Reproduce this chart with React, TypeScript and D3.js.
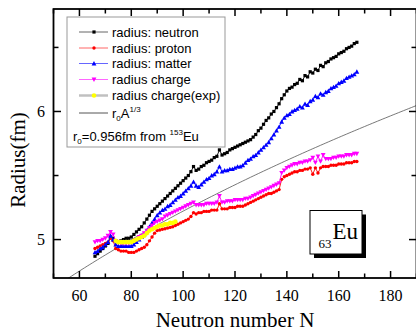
import React from "react";
import * as d3 from "d3";

const N_START = 66;
const NEUTRON = [4.87,4.89,4.91,4.93,4.95,4.97,5.02,5.01,4.99,4.98,4.99,5.00,5.01,5.01,5.02,5.04,5.06,5.08,5.10,5.13,5.16,5.19,5.22,5.24,5.26,5.28,5.30,5.32,5.34,5.36,5.38,5.40,5.42,5.44,5.46,5.48,5.50,5.53,5.57,5.54,5.55,5.57,5.58,5.60,5.61,5.62,5.64,5.65,5.70,5.66,5.67,5.68,5.70,5.71,5.72,5.73,5.74,5.75,5.76,5.77,5.78,5.80,5.82,5.85,5.87,5.90,5.93,5.95,5.98,6.00,6.03,6.06,6.10,6.13,6.16,6.18,6.19,6.21,6.22,6.25,6.24,6.28,6.27,6.31,6.30,6.33,6.32,6.36,6.35,6.38,6.39,6.41,6.42,6.43,6.45,6.46,6.47,6.49,6.50,6.51,6.53,6.54];
const PROTON = [4.93,4.94,4.95,4.96,4.97,4.98,5.01,4.99,4.93,4.92,4.91,4.91,4.91,4.90,4.90,4.90,4.91,4.92,4.93,4.94,4.96,4.99,5.02,5.05,5.07,5.075,5.08,5.085,5.09,5.095,5.10,5.11,5.12,5.13,5.14,5.15,5.16,5.18,5.21,5.20,5.21,5.21,5.22,5.22,5.22,5.23,5.23,5.23,5.28,5.24,5.24,5.24,5.25,5.25,5.25,5.26,5.26,5.26,5.27,5.28,5.29,5.30,5.31,5.32,5.33,5.34,5.35,5.36,5.36,5.37,5.38,5.39,5.47,5.49,5.50,5.51,5.52,5.53,5.53,5.54,5.54,5.55,5.55,5.56,5.51,5.56,5.52,5.56,5.57,5.57,5.57,5.58,5.58,5.58,5.59,5.59,5.59,5.60,5.60,5.60,5.61,5.61];
const MATTER = [4.90,4.91,4.93,4.94,4.96,4.98,5.03,5.00,4.96,4.95,4.95,4.95,4.95,4.95,4.95,4.96,4.98,5.00,5.02,5.04,5.07,5.10,5.13,5.16,5.19,5.21,5.23,5.24,5.26,5.27,5.29,5.31,5.33,5.34,5.36,5.38,5.40,5.42,5.45,5.42,5.41,5.43,5.45,5.47,5.48,5.50,5.51,5.53,5.57,5.53,5.54,5.54,5.55,5.55,5.56,5.57,5.57,5.58,5.60,5.62,5.63,5.65,5.66,5.68,5.70,5.72,5.74,5.76,5.79,5.82,5.85,5.88,5.92,5.95,5.97,5.98,6.00,6.01,6.02,6.04,6.03,6.06,6.05,6.08,6.09,6.12,6.11,6.14,6.13,6.15,6.16,6.18,6.19,6.20,6.22,6.23,6.24,6.26,6.27,6.28,6.29,6.31];
const CHARGE = [4.98,4.99,4.99,5.00,5.01,5.03,5.06,5.04,4.99,4.98,4.97,4.97,4.97,4.97,4.98,4.99,5.00,5.02,5.03,5.05,5.07,5.09,5.11,5.13,5.14,5.15,5.16,5.18,5.19,5.20,5.21,5.22,5.23,5.24,5.25,5.26,5.27,5.28,5.29,5.27,5.27,5.27,5.27,5.28,5.28,5.28,5.28,5.29,5.34,5.29,5.29,5.30,5.30,5.30,5.31,5.31,5.31,5.31,5.32,5.32,5.33,5.34,5.35,5.36,5.37,5.38,5.39,5.40,5.41,5.42,5.43,5.44,5.52,5.54,5.56,5.57,5.58,5.59,5.59,5.60,5.60,5.61,5.61,5.62,5.64,5.60,5.65,5.61,5.66,5.63,5.63,5.63,5.64,5.64,5.65,5.65,5.65,5.66,5.66,5.66,5.67,5.67];
const EXP_START = 74;
const CHARGE_EXP = [4.99,4.98,4.98,4.98,4.98,4.98,4.98,4.99,5.00,5.01,5.02,5.03,5.05,5.07,5.08,5.09,5.10,5.11,5.11,5.12,5.12,5.13,5.13,5.14];

const R0 = 0.956;
const Z = 63;
const X_TICKS = [60, 80, 100, 120, 140, 160, 180];
const X_MINOR = [50, 70, 90, 110, 130, 150, 170, 190];
const Y_TICKS = [5, 6];
const Y_MINOR = [5.5, 6.5];

const W = 416, H = 333;
const x = d3.scaleLinear().domain([50, 190]).range([53.5, 416.5]);
const y = d3.scaleLinear().domain([4.7, 6.8]).range([278, 9]);

type Shape = "square" | "circle" | "up" | "down" | "dot";
function Marker({ cx, cy, shape, color }: { cx: number; cy: number; shape: Shape; color: string }) {
  if (shape === "square") return <rect x={cx - 1.6} y={cy - 1.6} width={3.2} height={3.2} fill={color} />;
  if (shape === "circle") return <circle cx={cx} cy={cy} r={1.7} fill={color} />;
  if (shape === "dot") return <circle cx={cx} cy={cy} r={2.3} fill={color} />;
  const s = 2.4;
  if (shape === "up") return <path d={`M${cx},${cy - s}L${cx + s},${cy + s * 0.8}L${cx - s},${cy + s * 0.8}Z`} fill={color} />;
  return <path d={`M${cx},${cy + s}L${cx + s},${cy - s * 0.8}L${cx - s},${cy - s * 0.8}Z`} fill={color} />;
}

const SERIES: { name: string; data: number[]; start: number; color: string; shape: Shape }[] = [
  { name: "radius: neutron", data: NEUTRON, start: N_START, color: "#000000", shape: "square" },
  { name: "radius: proton", data: PROTON, start: N_START, color: "#ff0000", shape: "circle" },
  { name: "radius: matter", data: MATTER, start: N_START, color: "#0000ff", shape: "up" },
  { name: "radius charge", data: CHARGE, start: N_START, color: "#ff00ff", shape: "down" },
  { name: "radius charge(exp)", data: CHARGE_EXP, start: EXP_START, color: "#ffff00", shape: "dot" },
];

export default function App() {
  const line = d3.line<[number, number]>().x((d) => x(d[0])).y((d) => y(d[1]));
  const fitN = d3.range(50, 190.5, 1);
  const fitPts: [number, number][] = fitN.map((n) => [n, R0 * Math.cbrt(Z + n)]);
  const serif = "'Liberation Serif', 'Times New Roman', serif";
  const sans = "'Liberation Sans', Arial, sans-serif";
  const legendRows = [32, 48, 63.5, 79.5, 95.5];
  return (
    <svg width={W} height={H} style={{ position: "absolute", left: 0, top: 0, background: "#fff" }}>
      <defs>
        <clipPath id="plot">
          <rect x={53.5} y={9} width={363} height={269} />
        </clipPath>
      </defs>
      <g clipPath="url(#plot)">
        <path d={line(fitPts) || ""} fill="none" stroke="#555" strokeWidth={0.8} />
        {SERIES.map((s) => {
          const pts: [number, number][] = s.data.map((v, i) => [s.start + i, v]);
          return (
            <g key={s.name}>
              <path d={line(pts) || ""} fill="none" stroke={s.shape === "dot" ? "#c8c8a0" : s.color} strokeWidth={s.shape === "dot" ? 2 : 0.9} />
              {pts.map((p, i) => (
                <Marker key={i} cx={x(p[0])} cy={y(p[1])} shape={s.shape} color={s.color} />
              ))}
            </g>
          );
        })}
      </g>
      {/* frame */}
      <rect x={53.5} y={9} width={363} height={269} fill="none" stroke="#000" strokeWidth={1.8} />
      {/* x ticks */}
      {X_TICKS.map((t) => (
        <g key={"xt" + t}>
          <line x1={x(t)} x2={x(t)} y1={278} y2={271} stroke="#000" strokeWidth={1.5} />
          <line x1={x(t)} x2={x(t)} y1={9} y2={16} stroke="#000" strokeWidth={1.5} />
          <text x={x(t)} y={301} textAnchor="middle" fontFamily={serif} fontSize={16}>{t}</text>
        </g>
      ))}
      {X_MINOR.map((t) => (
        <g key={"xm" + t}>
          <line x1={x(t)} x2={x(t)} y1={278} y2={273.5} stroke="#000" strokeWidth={1.5} />
          <line x1={x(t)} x2={x(t)} y1={9} y2={13.5} stroke="#000" strokeWidth={1.5} />
        </g>
      ))}
      {Y_TICKS.map((t) => (
        <g key={"yt" + t}>
          <line x1={53.5} x2={61} y1={y(t)} y2={y(t)} stroke="#000" strokeWidth={1.5} />
          <line x1={416.5} x2={409} y1={y(t)} y2={y(t)} stroke="#000" strokeWidth={1.5} />
          <text x={45} y={y(t) + 5.5} textAnchor="end" fontFamily={serif} fontSize={16}>{t}</text>
        </g>
      ))}
      {Y_MINOR.map((t) => (
        <g key={"ym" + t}>
          <line x1={53.5} x2={58.5} y1={y(t)} y2={y(t)} stroke="#000" strokeWidth={1.5} />
          <line x1={416.5} x2={411.5} y1={y(t)} y2={y(t)} stroke="#000" strokeWidth={1.5} />
        </g>
      ))}
      <text x={235} y={327} textAnchor="middle" fontFamily={serif} fontSize={21}>Neutron number N</text>
      <text transform="translate(25,160) rotate(-90)" textAnchor="middle" fontFamily={serif} fontSize={21}>Radius(fm)</text>
      {/* legend */}
      <rect x={67} y={17} width={158} height={130} fill="#fff" stroke="#999" strokeWidth={1} />
      {SERIES.map((s, i) => (
        <g key={"lg" + s.name}>
          <line x1={79} x2={108} y1={legendRows[i]} y2={legendRows[i]} stroke={s.shape === "dot" ? "#c0c0c0" : s.color} strokeOpacity={s.shape === "dot" ? 1 : 0.6} strokeWidth={s.shape === "dot" ? 2.5 : 1} />
          <Marker cx={94} cy={legendRows[i]} shape={s.shape} color={s.color} />
          <text x={112} y={legendRows[i] + 4.5} fontFamily={sans} fontSize={13}>{s.name}</text>
        </g>
      ))}
      <line x1={79} x2={108} y1={113} y2={113} stroke="#555" strokeWidth={1} />
      <text x={112} y={117.5} fontFamily={sans} fontSize={13}>
        r<tspan fontSize={8} dy={3}>0</tspan><tspan dy={-3}>A</tspan><tspan fontSize={8} dy={-6}>1/3</tspan>
      </text>
      <text x={73} y={141} fontFamily={sans} fontSize={13}>
        r<tspan fontSize={8} dy={3}>0</tspan><tspan dy={-3}>=0.956fm from </tspan><tspan fontSize={8} dy={-6}>153</tspan><tspan dy={6}>Eu</tspan>
      </text>
      {/* Eu box */}
      <rect x={314} y={214.5} width={52} height={43.5} fill="#000" />
      <rect x={310} y={210.5} width={52} height={43.5} fill="#fff" stroke="#000" strokeWidth={1} />
      <text x={318.5} y={247.5} fontFamily={serif} fontSize={13}>63</text>
      <text x={332.5} y={239} fontFamily={serif} fontSize={23}>Eu</text>
    </svg>
  );
}
